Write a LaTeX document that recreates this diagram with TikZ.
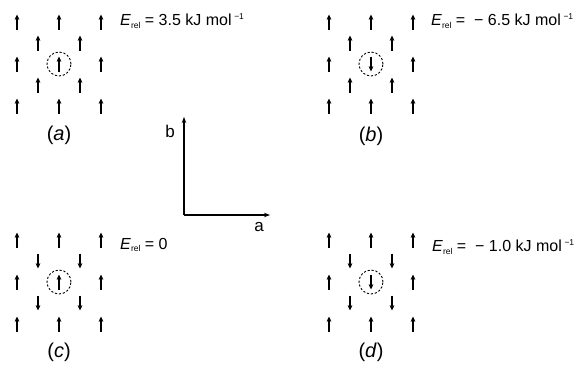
\documentclass[tikz,border=0pt]{standalone}
\usepackage{fontspec}
\setmainfont{Liberation Sans}
\usetikzlibrary{arrows.meta}
\newcommand\Erel{\textit{E}\raisebox{-2.5pt}{\fontsize{8.5}{8.5}\selectfont rel}}
\newcommand\permol{mol\,\raisebox{6pt}{\fontsize{8.5}{8.5}\selectfont −1}}
\tikzset{
  spin/.style={line width=1.4pt,-{Stealth[length=5pt,width=4.5pt,inset=0.6pt]}},
  ring/.style={line width=0.9pt,dash pattern=on 2.2pt off 1.8pt},
  lbl/.style={font=\fontsize{20}{20}\selectfont,inner sep=0pt},
  axlbl/.style={font=\fontsize{17}{17}\selectfont,inner sep=0pt},
  etxt/.style={anchor=west,font=\fontsize{16}{18}\selectfont,inner sep=0pt},
  axisline/.style={line width=1.2pt,-{Stealth[length=6pt,width=4.5pt]}},
  pics/spinup/.style={code={\draw[spin] (0,7.5) -- (0,-7.5);}},
  pics/spindown/.style={code={\draw[spin] (0,-7.5) -- (0,7.5);}}
}
\begin{document}
\begin{tikzpicture}[x=1pt,y=-1pt]
\useasboundingbox (0,0) rectangle (582,368);
% four lattices: centre x / centre y / centre spin / inner spins
\foreach \cx/\cy/\cs/\ds in {59/64/spinup/spinup, 371/64/spindown/spinup, 59/282/spinup/spindown, 371/282/spindown/spindown}{
  \begin{scope}[shift={(\cx,\cy)}]
    \foreach \dx in {-42,0,42} \foreach \dy in {-42,42} \pic at (\dx,\dy) {spinup};
    \foreach \dx in {-42,42} \pic at (\dx,0) {spinup};
    \foreach \dx in {-21,21} \foreach \dy in {-21,21} \pic at (\dx,\dy) {\ds};
    \pic at (0,0) {\cs};
    \draw[ring] (0,0) circle[radius=12pt];
  \end{scope}
}
\node[lbl] (la) at (59,135) {(\textit{a})};
\node[lbl] (lb) at (371,136) {(\textit{b})};
\node[lbl] (lc) at (59,352) {(\textit{c})};
\node[lbl] (ld) at (371,352) {(\textit{d})};
\node[etxt] (ea) at (120,21) {\Erel\ = 3.5 kJ \permol};
\node[etxt] (eb) at (431,21) {\Erel\ = \ − 6.5 kJ \permol};
\node[etxt] (ec) at (120,245) {\Erel\ = 0};
\node[etxt] (ed) at (432,247) {\Erel\ = \ − 1.0 kJ \permol};
% axes
\coordinate (O) at (184,215);
\coordinate (bt) at (184,117);
\coordinate (at) at (270,215);
\draw[axisline] (O) -- (bt);
\draw[axisline] (O) -- (at);
\node[axlbl] (bl) at (170,131) {b};
\node[axlbl] (al) at (259,227) {a};
\end{tikzpicture}
\end{document}
